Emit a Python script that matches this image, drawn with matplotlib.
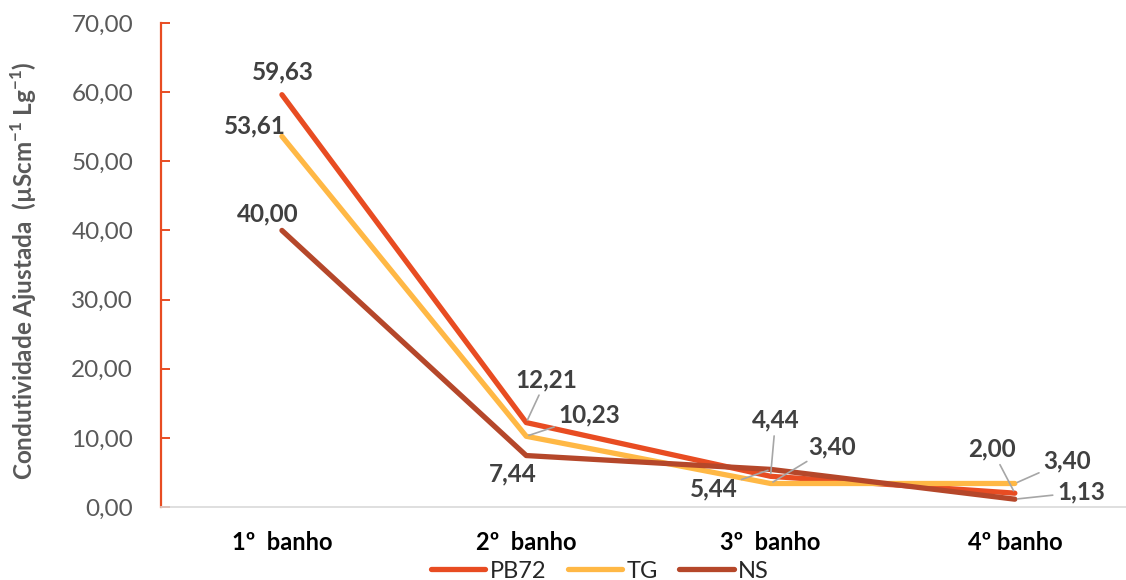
import matplotlib
matplotlib.use("Agg")
import matplotlib.pyplot as plt
from matplotlib.lines import Line2D

plt.rcParams['font.family'] = ['Lato', 'DejaVu Sans']
plt.rcParams['mathtext.fontset'] = 'custom'
plt.rcParams['mathtext.rm'] = 'Lato'
plt.rcParams['mathtext.bf'] = 'Lato:bold'

# conductivity per bath
banhos = ['1º  banho', '2º  banho', '3º  banho', '4º banho']
series_names = ['PB72', 'TG', 'NS']
pb72 = [59.63, 12.21, 4.44, 2.00]
tg = [53.61, 10.23, 3.40, 3.40]
ns = [40.00, 7.44, 5.44, 1.13]

colors = {'PB72': '#E84C22', 'TG': '#FFB845', 'NS': '#B5472A'}

# label offsets in pixels (dx, dy) and whether a leader line is drawn
lab_pos = {
    'PB72': [(1, 23, False), (20, 43, True), (5, 56, True), (-23, 44, True)],
    'TG':   [(-27, 10, False), (63, 21, True), (61, 37, True), (52, 23, True)],
    'NS':   [(-14, 17, False), (-13, -18, False), (-57, -20, True), (66, 7, True)],
}

fig = plt.figure(figsize=(11.26, 5.8), dpi=100)
ax = fig.add_axes([161/1126, 73/580, 965/1126, 484/580])

x = list(range(len(banhos)))
data = {'PB72': pb72, 'TG': tg, 'NS': ns}
for name in series_names:
    ax.plot(x, data[name], color=colors[name], lw=3.8,
            solid_capstyle='round', solid_joinstyle='round', zorder=3)

for name in series_names:
    for i, v in enumerate(data[name]):
        dx, dy, leader = lab_pos[name][i]
        txt = '{:.2f}'.format(v).replace('.', ',')
        kw = {}
        if leader:
            kw['arrowprops'] = dict(arrowstyle='-', color='#A6A6A6', lw=1.2,
                                    shrinkA=1, shrinkB=2)
        ax.annotate(txt, (i, v), xytext=(dx, dy), textcoords='offset pixels',
                    ha='center', va='center', fontsize=17.5, fontweight='bold',
                    color='#404040', zorder=5, **kw)

ax.set_xlim(-0.495, 3.455)
ax.set_ylim(0, 70)
ax.set_yticks(range(0, 71, 10))
ax.set_yticklabels(['{:.2f}'.format(t).replace('.', ',') for t in range(0, 71, 10)])
ax.set_xticks(x)
ax.set_xticklabels(banhos, fontweight='bold', fontsize=17, color='black')

for s in ['top', 'right']:
    ax.spines[s].set_visible(False)
ax.spines['left'].set_color('#E84C22')
ax.spines['left'].set_linewidth(1.6)
ax.spines['bottom'].set_color('#D9D9D9')
ax.spines['bottom'].set_linewidth(1.2)

ax.tick_params(axis='y', direction='in', length=6.5, width=1.4, color='#E84C22',
               labelsize=17.5, labelcolor='#595959', pad=20)
ax.tick_params(axis='x', length=0, pad=17)

fig.text(24/1126, 1 - 271/580,
         'Condutividade Ajustada  (µScm$^{\\mathbf{-1}}$ Lg$^{\\mathbf{-1}}$)',
         rotation=90, ha='center', va='center', fontsize=17.5,
         fontweight='bold', color='#595959')

handles = [Line2D([], [], color=colors[n], lw=3.8, solid_capstyle='round')
           for n in series_names]
fig.legend(handles, series_names, loc='center', bbox_to_anchor=(600/1126, 9/580),
           ncol=3, frameon=False, fontsize=17, handlelength=2.3,
           handletextpad=0.2, columnspacing=0.9, borderpad=0,
           labelcolor='#262626')

fig.savefig('out.png', dpi=100)
